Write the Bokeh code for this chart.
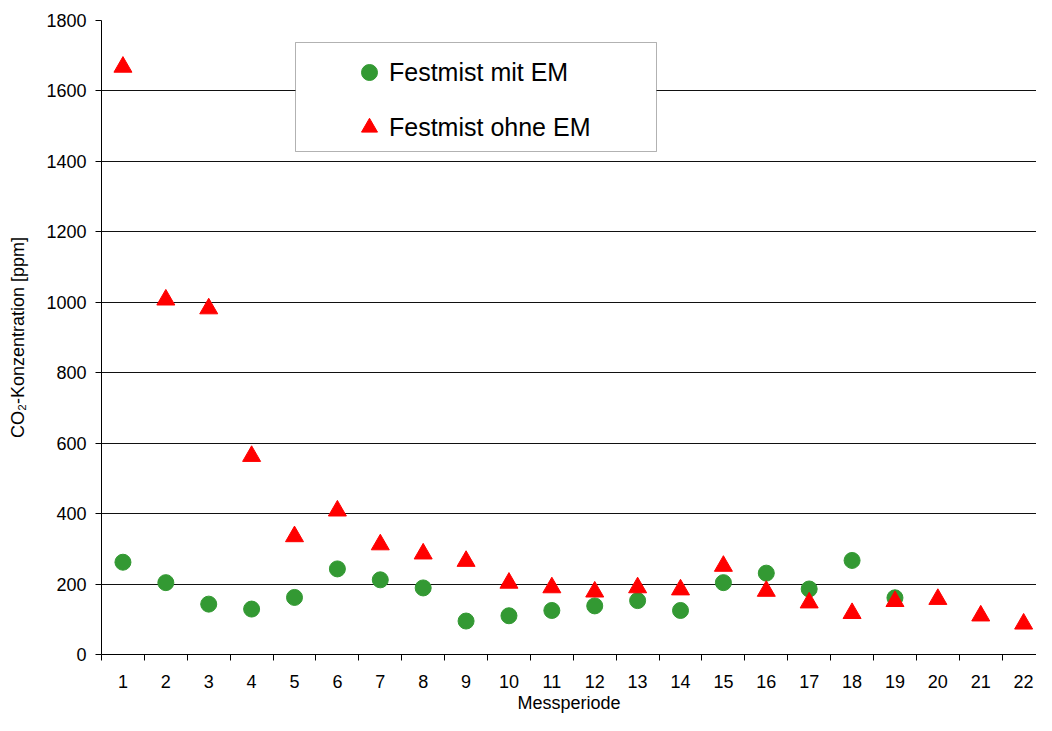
from bokeh.plotting import figure
from bokeh.models import (Range1d, FixedTicker, Legend, LegendItem, BoxAnnotation,
                          ColumnDataSource)
from bokeh.embed import file_html
from bokeh.resources import INLINE

# ---- data ----
perioden = [1, 2, 3, 4, 5, 6, 7, 8, 9, 10, 11, 12, 13, 14, 15, 16, 17, 18, 19, 20, 21, 22]
perioden_mit = [1, 2, 3, 4, 5, 6, 7, 8, 9, 10, 11, 12, 13, 14, 15, 16, 17, 18, 19]
mit_em = [262, 204, 143, 129, 162, 243, 212, 189, 95, 110, 125, 138, 153, 125,
          204, 231, 186, 267, 161]
ohne_em = [1668, 1007, 982, 563, 335, 408, 312, 286, 265, 203, 190, 178, 190, 184,
           251, 180, 147, 117, 151, 157, 110, 87]
y_ticks = [0, 200, 400, 600, 800, 1000, 1200, 1400, 1600, 1800]
x_labels = [str(v) for v in perioden]

FONT = "Liberation Sans"
GREEN = "#339933"
RED = "#FF0000"

W, H = 1036, 715
TOP, BOTTOM_BORDER = 20, 61          # frame from y=20 to y=654
FB = H - BOTTOM_BORDER               # frame bottom in screen px

p = figure(width=W, height=H, output_backend="svg", toolbar_location=None,
           x_range=Range1d(0.5, 22.3), y_range=Range1d(0, 1800),
           min_border_left=101, min_border_right=0, min_border_top=TOP,
           min_border_bottom=BOTTOM_BORDER)
p.outline_line_color = None
p.background_fill_color = "white"
p.border_fill_color = "white"

src_mit = ColumnDataSource(dict(x=perioden_mit, y=mit_em))
src_ohne = ColumnDataSource(dict(x=perioden, y=ohne_em))

r_mit = p.scatter("x", "y", source=src_mit, marker="circle", size=16,
                  fill_color=GREEN, line_color=GREEN)
r_ohne = p.scatter("x", "y", source=src_ohne, marker="triangle", size=18,
                   fill_color=RED, line_color=RED)

# x axis
xax = p.xaxis[0]
xax.ticker = FixedTicker(ticks=perioden, minor_ticks=[v - 0.5 for v in perioden])
xax.major_label_overrides = {v: s for v, s in zip(perioden, x_labels)}
xax.major_tick_out = 0
xax.major_tick_in = 0
xax.minor_tick_out = 6
xax.minor_tick_in = 0
xax.minor_tick_line_color = "black"
xax.axis_line_color = "black"
xax.major_label_text_font = FONT
xax.major_label_text_font_size = "18px"
xax.major_label_text_color = "black"
xax.major_label_standoff = 14
xax.axis_label = "Messperiode"
xax.axis_label_text_font = FONT
xax.axis_label_text_font_size = "18px"
xax.axis_label_text_font_style = "normal"
xax.axis_label_text_color = "black"
xax.axis_label_standoff = 2

# y axis
yax = p.yaxis[0]
yax.ticker = FixedTicker(ticks=y_ticks)
yax.major_tick_out = 6
yax.major_tick_in = 0
yax.minor_tick_out = 0
yax.minor_tick_in = 0
yax.axis_line_color = "black"
yax.major_tick_line_color = "black"
yax.major_label_text_font = FONT
yax.major_label_text_font_size = "18px"
yax.major_label_text_color = "black"
yax.major_label_standoff = 9
yax.axis_label = "CO\u2082-Konzentration [ppm]"
yax.axis_label_text_font = FONT
yax.axis_label_text_font_size = "18px"
yax.axis_label_text_font_style = "normal"
yax.axis_label_text_color = "black"
yax.axis_label_standoff = 15

p.xgrid.grid_line_color = None
p.ygrid.ticker = FixedTicker(ticks=y_ticks)
p.ygrid.grid_line_color = "#111111"
p.ygrid.grid_line_width = 1

# legend frame (screen units relative to the plot frame)
box = BoxAnnotation(left=194, right=555, bottom=FB - 151, top=FB - 42,
                    left_units="screen", right_units="screen",
                    bottom_units="screen", top_units="screen",
                    fill_color="white", fill_alpha=1.0,
                    line_color="black", line_width=1)
p.add_layout(box)

legend = Legend(items=[LegendItem(label="Festmist mit EM", renderers=[r_mit]),
                       LegendItem(label="Festmist ohne EM", renderers=[r_ohne])],
                location=(248, FB - 147), orientation="vertical",
                border_line_color=None, background_fill_alpha=0.0,
                padding=0, margin=0, spacing=15,
                glyph_width=40, glyph_height=40, label_height=40,
                label_standoff=-9, label_text_font=FONT,
                label_text_font_size="25px", label_text_color="black")
p.add_layout(legend, "center")

open("out.html", "w").write(file_html(p, INLINE))
